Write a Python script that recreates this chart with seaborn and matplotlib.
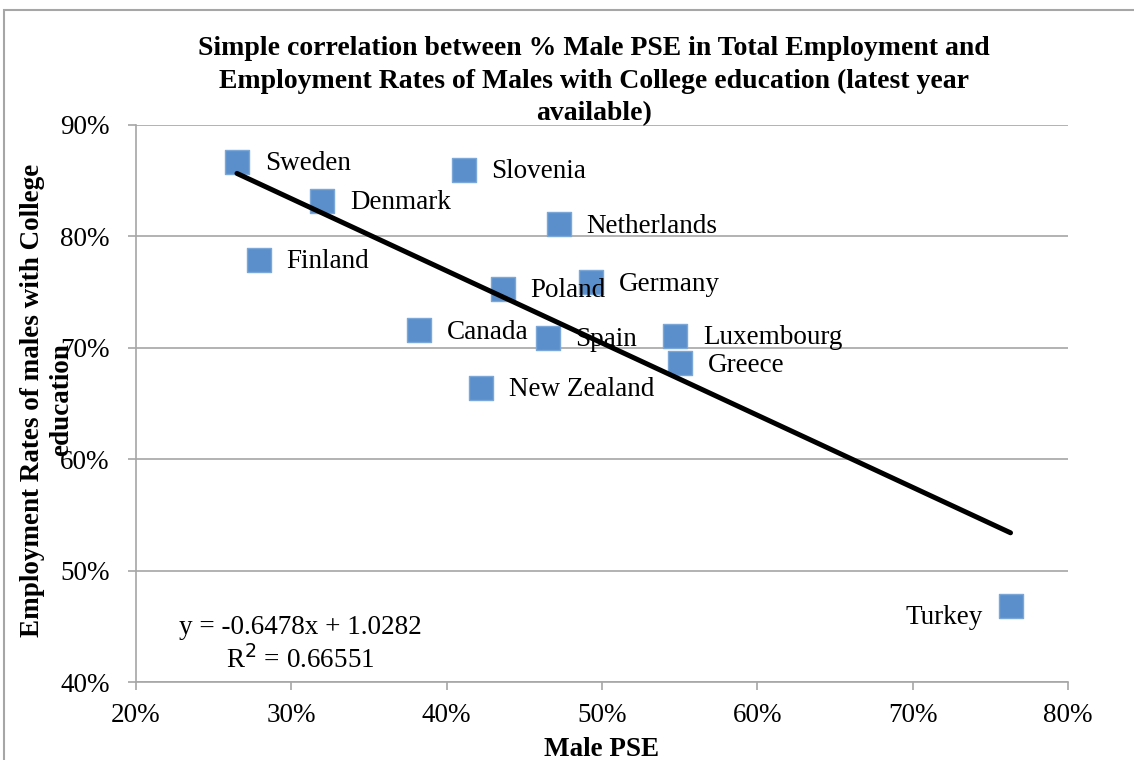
import numpy as np
import pandas as pd
import seaborn as sns
from matplotlib import pyplot as plt
from matplotlib.patches import Rectangle
from matplotlib.ticker import PercentFormatter

countries = ['Sweden', 'Slovenia', 'Denmark', 'Netherlands', 'Finland', 'Poland',
             'Germany', 'Canada', 'Spain', 'Luxembourg', 'Greece', 'New Zealand', 'Turkey']
male_pse = [0.265, 0.411, 0.320, 0.472, 0.279, 0.436,
            0.493, 0.382, 0.465, 0.547, 0.550, 0.422, 0.763]
emp_rate = [0.867, 0.860, 0.832, 0.811, 0.779, 0.753,
            0.759, 0.716, 0.709, 0.711, 0.686, 0.664, 0.468]
slope = -0.6478
intercept = 1.0282
r_squared = 0.66551

x_ticks = [0.2, 0.3, 0.4, 0.5, 0.6, 0.7, 0.8]
y_ticks = [0.4, 0.5, 0.6, 0.7, 0.8, 0.9]

GRAY = '#a6a6a6'
BLUE = '#5b8fcb'
SERIF = ['Liberation Serif', 'DejaVu Serif']


def main():
    sns.set_style('white')
    plt.rcParams['font.family'] = SERIF
    plt.rcParams['font.size'] = 19.5
    plt.rcParams['text.color'] = 'black'
    plt.rcParams['xtick.labelcolor'] = 'black'
    plt.rcParams['ytick.labelcolor'] = 'black'

    data = pd.DataFrame({'country': countries, 'pse': male_pse, 'emp': emp_rate})

    fig = plt.figure(figsize=(11.34, 7.6), dpi=100)
    ax = fig.add_axes([136 / 1134, 1 - 682 / 760, 932 / 1134, 557 / 760])

    sns.scatterplot(data=data, x='pse', y='emp', marker='s', s=290,
                    color=BLUE, edgecolor='#7ba7d9', linewidth=1, ax=ax, zorder=3)

    trend_x = np.array([min(male_pse), max(male_pse)])
    sns.lineplot(x=trend_x, y=slope * trend_x + intercept, color='black',
                 linewidth=3.6, ax=ax, zorder=4)

    for name, x, y in zip(countries, male_pse, emp_rate):
        if name == 'Turkey':
            ax.annotate(name, (x, y), xytext=(-20, -8), textcoords='offset points',
                        ha='right', va='center', zorder=5)
        else:
            ax.annotate(name, (x, y), xytext=(20, -1.5), textcoords='offset points',
                        ha='left', va='center', zorder=5)

    ax.text(0.176, 0.068, f'y = {slope}x + {intercept}\nR$^2$ = {r_squared}',
            transform=ax.transAxes, ha='center', va='center', multialignment='center',
            linespacing=1.25)

    ax.set_xlim(0.2, 0.8)
    ax.set_ylim(0.4, 0.9)
    ax.set_xticks(x_ticks)
    ax.set_yticks(y_ticks)
    ax.xaxis.set_major_formatter(PercentFormatter(1.0, decimals=0))
    ax.yaxis.set_major_formatter(PercentFormatter(1.0, decimals=0))
    ax.grid(axis='y', color=GRAY, linewidth=1.2)
    ax.grid(axis='x', visible=False)
    ax.set_axisbelow(True)
    for side in ['top', 'right']:
        ax.spines[side].set_visible(False)
    for side in ['left', 'bottom']:
        ax.spines[side].set_color(GRAY)
        ax.spines[side].set_linewidth(1.2)
    ax.tick_params(axis='y', direction='out', length=6, width=1.2, color=GRAY, pad=13,
                   left=True, labelsize=19.5, labelcolor='black')
    ax.tick_params(axis='x', direction='out', length=6, width=1.2, color=GRAY, pad=9,
                   bottom=True, labelsize=19.5, labelcolor='black')
    ax.set_xlabel('')
    ax.set_ylabel('')

    fig.text(602 / 1134, 1 - 749 / 760, 'Male PSE', ha='center', va='center',
             fontweight='bold', fontsize=19.5)
    fig.text(47 / 1134, 1 - 400 / 760, 'Employment Rates of males with College\neducation',
             rotation=90, ha='center', va='center', multialignment='center',
             fontweight='bold', fontsize=19.5, linespacing=1.2)
    fig.text(594 / 1134, 1 - 81 / 760,
             'Simple correlation between % Male PSE in Total Employment and\n'
             'Employment Rates of Males with College education (latest year\navailable)',
             ha='center', va='center', multialignment='center',
             fontweight='bold', fontsize=20, linespacing=1.38)

    fig.patches.append(Rectangle((4 / 1134, -0.1), 1.2, 1.1 - 10 / 760,
                                 transform=fig.transFigure, fill=False,
                                 edgecolor=GRAY, linewidth=1.5))

    fig.savefig('out.png', dpi=100)
    plt.close(fig)


if __name__ == '__main__':
    main()
